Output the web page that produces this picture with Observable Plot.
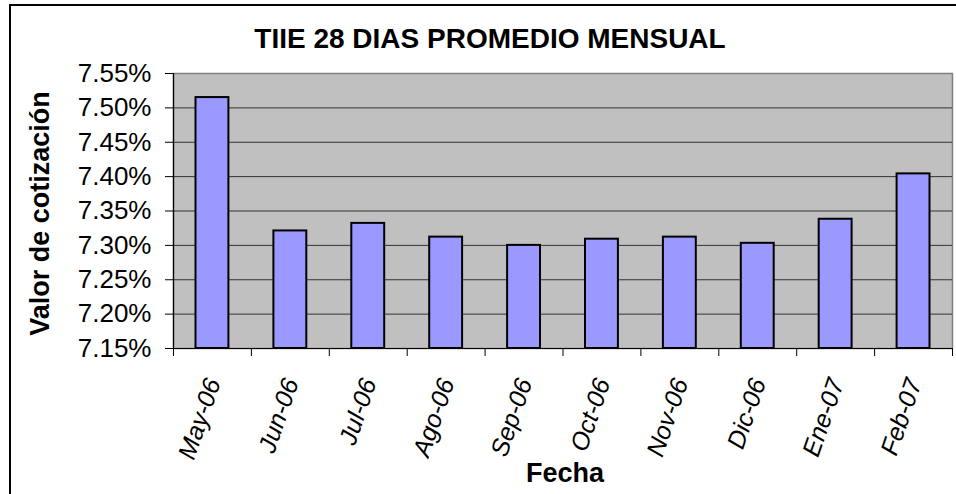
<!DOCTYPE html>
<html>
<head>
<meta charset="utf-8">
<script src="https://cdn.jsdelivr.net/npm/d3@7"></script>
<script src="https://cdn.jsdelivr.net/npm/@observablehq/plot@0.6"></script>
<style>
  body { margin: 0; background: #fff; }
  #wrap { position: relative; width: 956px; height: 494px; overflow: hidden; font-family: "Liberation Sans", Arial, sans-serif; color: #000; }
  #border { position: absolute; left: 9px; top: 4px; width: 980px; height: 520px; border-left: 2px solid #000; border-top: 2px solid #000; }
  #chart { position: absolute; left: 0; top: 0; }
  #title { position: absolute; left: 0; width: 980px; top: 25px; text-align: center; font-weight: bold; font-size: 28px; line-height: 28px; white-space: nowrap; }
  #ylab { position: absolute; left: -160px; width: 400px; top: 200px; height: 27px; line-height: 27px; text-align: center; font-weight: bold; font-size: 27px; transform: rotate(-90deg); transform-origin: 200px 13.5px; white-space: nowrap; }
  #xlab { position: absolute; left: 365px; width: 400px; top: 460px; line-height: 27px; text-align: center; font-weight: bold; font-size: 27px; white-space: nowrap; }
</style>
</head>
<body>
<div id="wrap">
  <div id="chart"></div>
  <div id="border"></div>
  <div id="title"></div>
  <div id="ylab"></div>
  <div id="xlab"></div>
</div>
<script>
const titleText = "TIIE 28 DIAS PROMEDIO MENSUAL";
const yLabel = "Valor de cotización";
const xLabel = "Fecha";
const months = ["May-06", "Jun-06", "Jul-06", "Ago-06", "Sep-06", "Oct-06", "Nov-06", "Dic-06", "Ene-07", "Feb-07"];
const values = [7.515, 7.321, 7.332, 7.312, 7.300, 7.309, 7.312, 7.303, 7.338, 7.404];
const yTicks = [7.15, 7.20, 7.25, 7.30, 7.35, 7.40, 7.45, 7.50, 7.55];
const yMin = 7.15, yMax = 7.55;

const data = months.map((m, i) => ({m, i, v: values[i]}));
const boundaries = d3.range(months.length + 1);

document.getElementById("title").textContent = titleText;
document.getElementById("ylab").textContent = yLabel;
document.getElementById("xlab").textContent = xLabel;

const chart = Plot.plot({
  width: 956,
  height: 494,
  marginLeft: 173,
  marginRight: 4,
  marginTop: 73,
  marginBottom: 146,
  style: {fontFamily: "'Liberation Sans', Arial, sans-serif", background: "transparent", color: "#000", overflow: "visible"},
  x: {type: "linear", domain: [0, months.length], axis: null},
  y: {domain: [yMin, yMax], axis: null},
  marks: [
    Plot.frame({fill: "#c0c0c0", stroke: "#808080", strokeWidth: 1.5}),
    Plot.gridY(yTicks.filter(t => t > yMin && t < yMax), {stroke: "#333", strokeOpacity: 1, strokeWidth: 1}),
    Plot.rect(data, {x1: "i", x2: d => d.i + 1, y1: yMin, y2: "v", insetLeft: 22.5, insetRight: 22.5, fill: "#9999ff", stroke: "#000", strokeWidth: 2}),
    Plot.ruleX([0], {stroke: "#000", strokeWidth: 1.2}),
    Plot.ruleY([yMin], {stroke: "#000", strokeWidth: 1.2}),
    Plot.axisY(yTicks, {tickSize: 8, tickPadding: 14, fontSize: 26, tickFormat: d => d.toFixed(2) + "%", label: null, stroke: "#000"}),
    Plot.axisX(boundaries, {tickSize: 8, tickFormat: () => "", label: null, stroke: "#000"}),
    Plot.text(data, {x: d => d.i + 0.5, frameAnchor: "bottom", text: "m", rotate: -71, textAnchor: "end", lineAnchor: "middle", dx: 1, dy: 31, fontSize: 25, fontStyle: "italic", fill: "#000"})
  ]
});
document.getElementById("chart").appendChild(chart);
</script>
</body>
</html>
